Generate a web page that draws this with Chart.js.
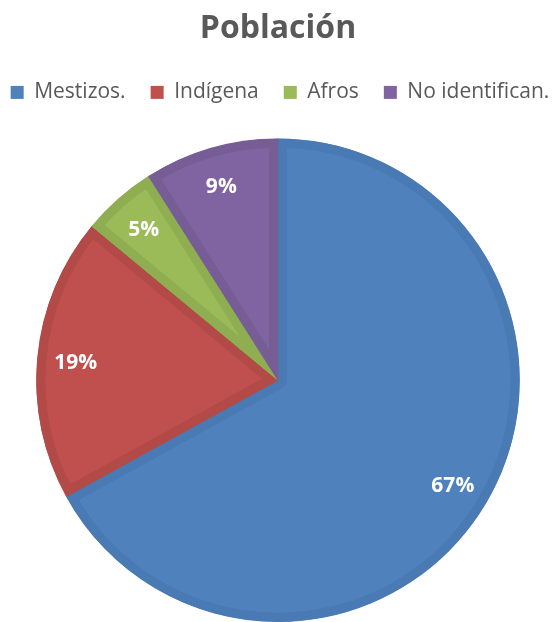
<!DOCTYPE html>
<html><head><meta charset="utf-8">
<script src="https://cdn.jsdelivr.net/npm/chart.js@4"></script>
<style>html,body{margin:0;padding:0;background:#fff}#wrap{width:556px;height:622px}</style>
</head><body><div id="wrap"><canvas id="c"></canvas></div>
<script>
const categories = ["Mestizos.", "Indígena", "Afros", "No identifican."];
const values = [67, 19, 5, 9];
const labels = ["67%", "19%", "5%", "9%"];
const fills = ["#4F81BD", "#C0504D", "#9BBB59", "#8064A2"];
const borders = ["#4A7AB3", "#B24A47", "#8FAE52", "#765D96"];
const FONT = "'Open Sans', 'Liberation Sans', sans-serif";
const LEG_FONT = 21, LEG_BOX = 13, LEG_GAP = 25;

const labelPlugin = {
  id: 'sliceLabels',
  afterDatasetsDraw(chart) {
    const ctx = chart.ctx;
    const meta = chart.getDatasetMeta(0);
    ctx.save();
    ctx.fillStyle = '#fff';
    ctx.font = "bold 21px " + FONT;
    ctx.textAlign = 'center';
    ctx.textBaseline = 'middle';
    meta.data.forEach((arc, i) => {
      const mid = (arc.startAngle + arc.endAngle) / 2;
      const r = arc.outerRadius * 0.84;
      ctx.fillText(labels[i], arc.x + Math.cos(mid) * r, arc.y + Math.sin(mid) * r + 2);
    });
    ctx.restore();
  }
};

const legendTweak = {
  id: 'legendTweak',
  beforeInit(chart) {
    const lg = chart.legend;
    const fit = lg.fit;
    lg.fit = function () {
      const mw = this.maxWidth;
      this.maxWidth = 2000;
      fit.call(this);
      this.maxWidth = mw;
      this.width = mw;
      this.height += 26;
    };
    lg.draw = function () {
      const ctx = this.ctx;
      ctx.save();
      ctx.font = LEG_FONT + "px " + FONT;
      const items = categories.map(t => LEG_BOX + LEG_FONT / 2 + ctx.measureText(t).width);
      const total = items.reduce((a, b) => a + b, 0) + LEG_GAP * (items.length - 1);
      let x = this.left + (this.width - total) / 2 + 2;
      const yc = this.top + 36;
      ctx.textBaseline = 'middle';
      ctx.textAlign = 'left';
      categories.forEach((t, i) => {
        ctx.fillStyle = fills[i];
        ctx.fillRect(x, yc - LEG_BOX / 2, LEG_BOX, LEG_BOX);
        ctx.fillStyle = '#595959';
        ctx.fillText(t, x + LEG_BOX + LEG_FONT / 2, yc);
        x += items[i] + LEG_GAP;
      });
      ctx.restore();
    };
  }
};

new Chart(document.getElementById('c'), {
  type: 'pie',
  data: {
    labels: categories,
    datasets: [{
      data: values,
      backgroundColor: fills,
      borderColor: borders,
      borderWidth: 9,
      borderAlign: 'inner',
      hoverOffset: 0
    }]
  },
  options: {
    responsive: true,
    maintainAspectRatio: false,
    animation: false,
    layout: { padding: 0 },
    plugins: {
      tooltip: { enabled: false },
      title: {
        display: true,
        text: 'Población',
        color: '#595959',
        font: { family: FONT, size: 32, weight: 'bold' },
        padding: { top: 10, bottom: 8 }
      },
      legend: {
        display: true,
        position: 'top',
        labels: {
          color: '#595959',
          font: { family: FONT, size: LEG_FONT },
          boxWidth: LEG_BOX,
          boxHeight: LEG_BOX,
          padding: LEG_GAP,
          generateLabels(chart) {
            return categories.map((c, i) => ({
              text: c, fillStyle: fills[i], strokeStyle: fills[i], lineWidth: 0, index: i, hidden: false
            }));
          }
        }
      }
    }
  },
  plugins: [labelPlugin, legendTweak]
});
</script>
</body></html>
